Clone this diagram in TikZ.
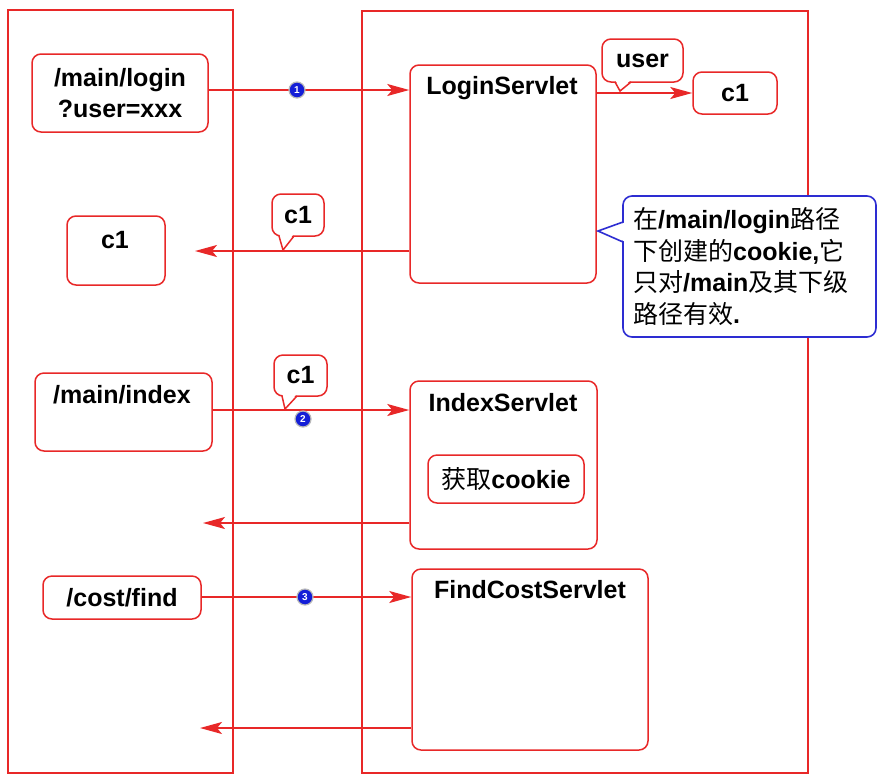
\documentclass[tikz,border=0pt]{standalone}
\usepackage{fontspec}
\setmainfont{Liberation Sans}
\newfontfamily\cjk{Noto Sans CJK SC}
\usetikzlibrary{arrows.meta}
\definecolor{rd}{RGB}{232,40,40}
\definecolor{nb}{RGB}{45,45,210}
\definecolor{cb}{RGB}{20,30,215}
\begin{document}
\begin{tikzpicture}[x=1pt,y=-1pt,
 frame/.style={draw=rd, line width=2.2pt, inner sep=0},
 box/.style={draw=rd, line width=1.5pt, rounded corners=9pt, fill=white, inner sep=0},
 lbl/.style={font=\fontsize{25}{31}\selectfont\bfseries, inner sep=0, align=center},
 arr/.style={draw=rd, line width=1.8pt, -{Stealth[length=22pt,width=12pt,inset=5pt]}},
 num/.style={circle, fill=cb, draw=gray!55, line width=1.2pt, text=white, font=\fontsize{10}{10}\selectfont\bfseries, inner sep=0, minimum size=16pt},
]
\useasboundingbox (0,0) rectangle (885,780);
\fill[white] (0,0) rectangle (885,780);

% frames
\node[frame, minimum width=225pt, minimum height=763pt] (client) at (120.5,391.5) {};
\node[frame, minimum width=446pt, minimum height=762pt] (server) at (585,392) {};

% client boxes
\node[box, lbl, minimum width=176pt, minimum height=78pt] (login) at (120,93) {/main/login\\?user=xxx};
\node[box, minimum width=98pt, minimum height=69pt] (c1L) at (116,250.5) {};
\node[lbl] (c1Lt) at (115,240) {c1};
\node[box, minimum width=177pt, minimum height=78pt] (index) at (123.5,412) {};
\node[lbl] (indext) at (122,395) {/main/index};
\node[box, lbl, minimum width=158pt, minimum height=43pt] (find) at (122,597.5) {/cost/find};

% server boxes
\node[box, minimum width=186pt, minimum height=218pt] (ls) at (503,174) {};
\node[lbl] (lst) at (502,88) {LoginServlet};
\node[box, lbl, minimum width=84pt, minimum height=42pt] (c1R) at (735,93) {c1};
\node[box, minimum width=187pt, minimum height=168pt] (idx) at (503.5,465) {};
\node[lbl] (idxt) at (503,403) {IndexServlet};
\node[box, lbl, minimum width=156pt, minimum height=48pt] (get) at (506,479) {{\mdseries\cjk 获取}cookie};
\node[box, minimum width=236pt, minimum height=181pt] (fc) at (530,659.5) {};
\node[lbl] (fct) at (530,590) {FindCostServlet};

% arrows
\coordinate (a1) at (297,90);
\draw[arr] (login.east |- a1) -- (ls.west |- a1);
\draw[arr] (ls.east |- c1R) -- (c1R.west);
\coordinate (t1) at (195,251);
\draw[arr] (ls.west |- t1) -- (t1);
\coordinate (a2) at (303,410);
\draw[arr] (index.east |- a2) -- (idx.west |- a2);
\coordinate (t2) at (203,523);
\draw[arr] (idx.west |- t2) -- (t2);
\coordinate (a3) at (305,597);
\draw[arr] (find.east |- a3) -- (fc.west |- a3);
\coordinate (t3) at (200,728);
\draw[arr] (fc.west |- t3) -- (t3);

% callouts
\node[box, lbl, minimum width=81pt, minimum height=43pt] (user) at (642.5,60.5) {user};
\fill[white] (615.5,80) -- (620,91) -- (630.5,80) -- cycle;
\draw[rd, line width=1.5pt] (615,82) -- (620,91) -- (631,82);

\node[box, lbl, minimum width=52pt, minimum height=42pt] (c1a) at (298,215) {c1};
\fill[white] (279.5,234) -- (283,250) -- (293.5,234) -- cycle;
\draw[rd, line width=1.5pt] (279,236) -- (283,250) -- (294,236);

\node[box, lbl, minimum width=53pt, minimum height=41pt] (c1b) at (300.5,375.5) {c1};
\fill[white] (282.5,394) -- (285,409) -- (296.5,394) -- cycle;
\draw[rd, line width=1.5pt] (282,396) -- (285,409) -- (297,396);

% note
\node[draw=nb, line width=1.6pt, rounded corners=9pt, fill=white, minimum width=253pt, minimum height=141pt, inner sep=0] (note) at (749.5,266.5) {};
\fill[white] (625,222.5) -- (598,231) -- (625,241.5) -- cycle;
\draw[nb, line width=1.6pt] (623,222) -- (598,231) -- (623,242);
\node[anchor=west, inner sep=0, align=left, font=\fontsize{25}{31.5}\selectfont\bfseries] (notet) at (633,266.5)
 {{\mdseries\cjk 在}/main/login{\mdseries\cjk 路径}\\
  {\mdseries\cjk 下创建的}cookie,{\mdseries\cjk 它}\\
  {\mdseries\cjk 只对}/main{\mdseries\cjk 及其下级}\\
  {\mdseries\cjk 路径有效}.};

% numbers
\node[num] (n1) at (a1) {1};
\node[num] (n2) at (303,419) {2};
\node[num] (n3) at (a3) {3};
\end{tikzpicture}
\end{document}
